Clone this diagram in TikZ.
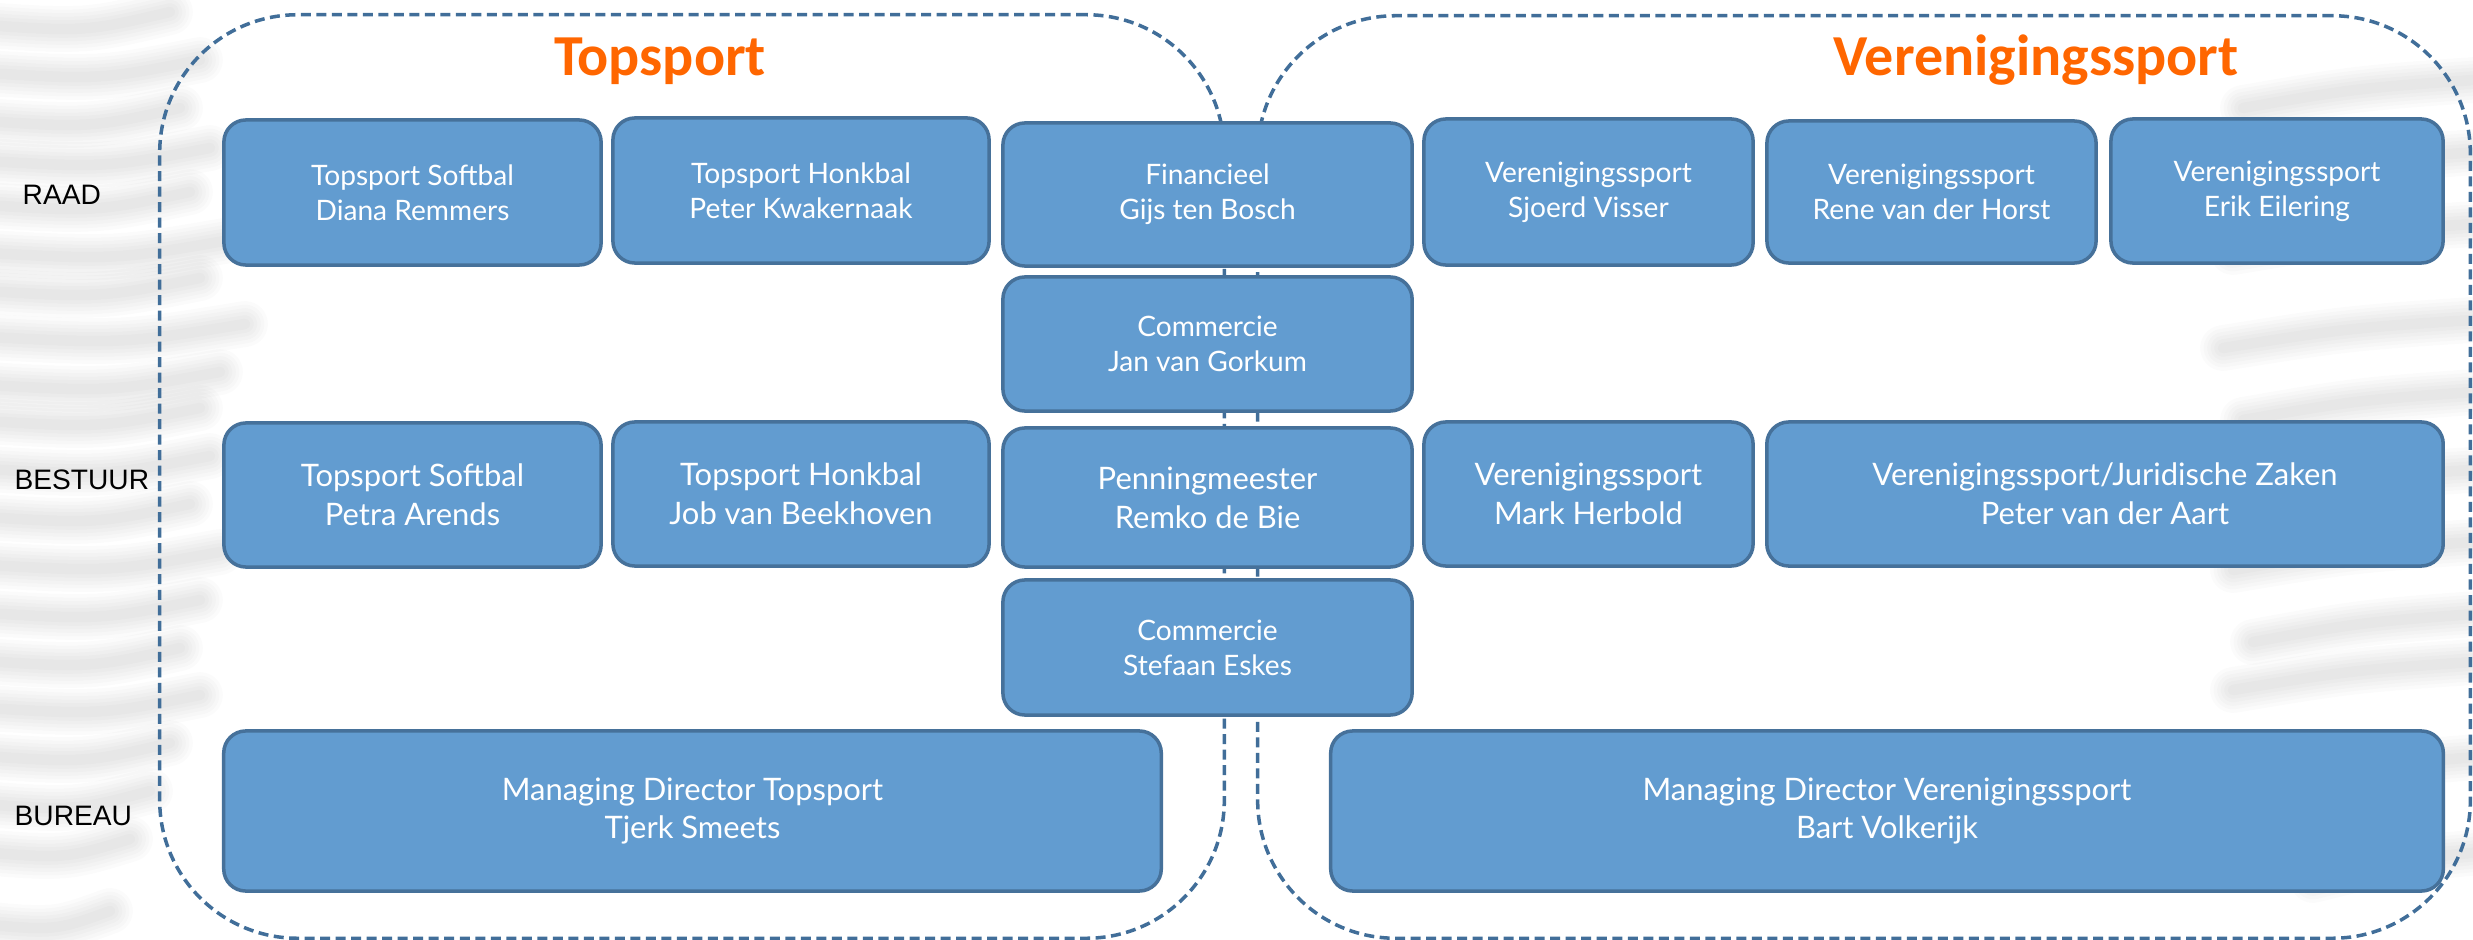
\documentclass[tikz,border=0pt]{standalone}
\usepackage{fontspec}
\setmainfont{Lato}
\newfontfamily\titlefont{Carlito}
\newfontfamily\labelfont{Liberation Sans}
\usetikzlibrary{positioning}
\definecolor{boxfill}{RGB}{98,156,208}
\definecolor{boxline}{RGB}{70,113,154}
\definecolor{groupline}{RGB}{65,110,153}
\definecolor{titleorange}{RGB}{255,102,0}
\tikzset{
orgbox/.style={draw=boxline,fill=boxfill,line width=1pt,rounded corners=0.22cm,text=white,align=center,inner sep=0pt},
smallbox/.style={orgbox,font=\fontsize{8}{10}\selectfont},
bigbox/.style={orgbox,font=\fontsize{8.8}{11}\selectfont},
groupframe/.style={draw=groupline,line width=1pt,dash pattern=on 0.1cm off 0.055cm,rounded corners=1.38cm,inner sep=0pt},
grouptitle/.style={text=titleorange,font=\titlefont\bfseries\fontsize{16.5}{18}\selectfont,anchor=base},
levellabel/.style={anchor=west,font=\labelfont\fontsize{8}{9}\selectfont,inner sep=0pt},
streak/.style={black,opacity=0.016,line cap=round},
}

\begin{document}
\begin{tikzpicture}[x=0.01cm,y=-0.01cm]

        \useasboundingbox (0,0) rectangle (2473,940);

        % Background streaks (faint)
        \foreach \y/\len in {24/170,72/200,120/180,160/210,204/190,252/230,290/200,336/245,384/220,
                             420/200,468/210,516/190,564/220,612/200,660/180,707/200,755/170,803/150,851/130,923/110}
            \foreach \w in {13,11,9,7,5,3}
                \draw[streak,line width=\w pt] (-30,\y) .. controls (0.5*\len,\y+8) .. (\len,\y-12);
        \foreach \y/\len in {78/230,150/210,222/240,318/250,390/230,468/260,540/240,612/220,660/240,755/200,850/160}
            \foreach \w in {13,11,9,7,5,3}
                \draw[streak,line width=\w pt] (2503,\y) .. controls (2473-0.5*\len,\y+10) .. (2473-\len,\y+30);

        % Groups (drawn first, the middle boxes hide them)
        \node[groupframe,minimum width=10.64cm,minimum height=9.23cm] (topsport) at (692,476.5) {};
        \node[groupframe,minimum width=12.12cm,minimum height=9.22cm] (vereniging) at (1864,477) {};
        \node[grouptitle] (topsport title) at (660,76) {Topsport};
        \node[grouptitle] (vereniging title) at (2036,76) {Verenigingssport};

        % Levels
        \node[levellabel] (raad) at (22,195) {RAAD};
        \node[levellabel] (bestuur) at (14,480) {BESTUUR};
        \node[levellabel] (bureau) at (14,816) {BUREAU};

        % Raad
        \node[smallbox,minimum width=3.77cm,minimum height=1.45cm] (raad softbal) at (412.5,192.5) {Topsport Softbal\\Diana Remmers};
        \node[smallbox,minimum width=3.76cm,minimum height=1.45cm] (raad honkbal) at (801,190.5) {Topsport Honkbal\\Peter Kwakernaak};
        \node[smallbox,minimum width=4.09cm,minimum height=1.43cm] (financieel) at (1207.5,194.5) {Financieel\\Gijs ten Bosch};
        \node[smallbox,minimum width=3.29cm,minimum height=1.46cm] (raad ver a) at (1588.5,192) {Verenigingssport\\Sjoerd Visser};
        \node[smallbox,minimum width=3.29cm,minimum height=1.42cm] (raad ver b) at (1931.5,192) {Verenigingssport\\Rene van der Horst};
        \node[smallbox,minimum width=3.32cm,minimum height=1.44cm] (raad ver c) at (2277,191) {Verenigingssport\\Erik Eilering};

        % Commercie (1)
        \node[smallbox,minimum width=4.09cm,minimum height=1.34cm] (commercie a) at (1207.5,344) {Commercie\\Jan van Gorkum};

        % Bestuur
        \node[bigbox,minimum width=3.77cm,minimum height=1.44cm] (bestuur softbal) at (412.5,495) {Topsport Softbal\\Petra Arends};
        \node[bigbox,minimum width=3.76cm,minimum height=1.44cm] (bestuur honkbal) at (801,494) {Topsport Honkbal\\Job van Beekhoven};
        \node[bigbox,minimum width=4.09cm,minimum height=1.39cm] (penningmeester) at (1207.5,497.5) {Penningmeester\\Remko de Bie};
        \node[bigbox,minimum width=3.29cm,minimum height=1.44cm] (bestuur ver) at (1588.5,494) {Verenigingssport\\Mark Herbold};
        \node[bigbox,minimum width=6.76cm,minimum height=1.44cm] (juridisch) at (2105,494) {Verenigingssport/Juridische Zaken\\Peter van der Aart};

        % Commercie (2)
        \node[smallbox,minimum width=4.09cm,minimum height=1.35cm] (commercie b) at (1207.5,647.5) {Commercie\\Stefaan Eskes};

        % Bureau
        \node[bigbox,minimum width=9.37cm,minimum height=1.6cm] (md topsport) at (692.5,811) {Managing Director Topsport\\Tjerk Smeets};
        \node[bigbox,minimum width=11.12cm,minimum height=1.6cm] (md vereniging) at (1887,811) {Managing Director Verenigingssport\\Bart Volkerijk};

\end{tikzpicture}
\end{document}
